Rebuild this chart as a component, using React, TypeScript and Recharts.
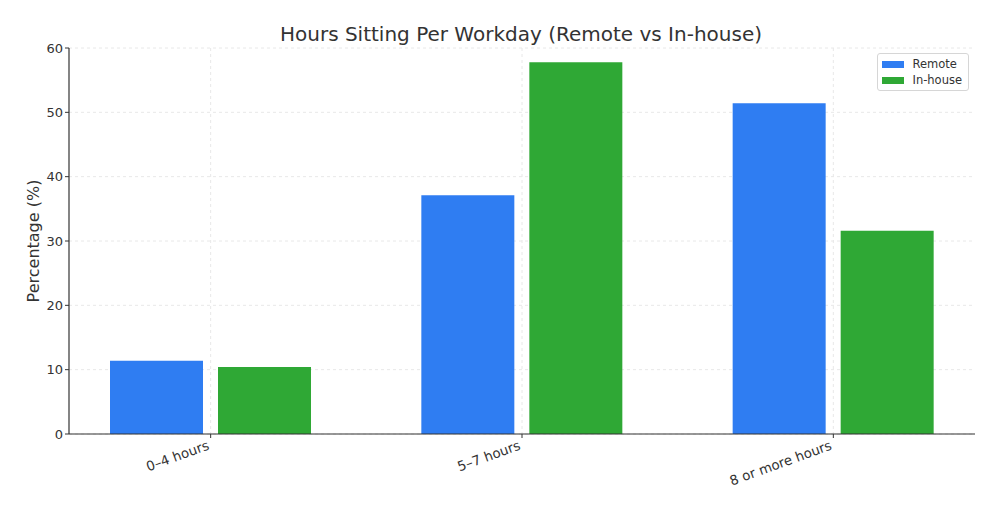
import React from 'react';
import { BarChart, Bar, XAxis, YAxis, CartesianGrid } from 'recharts';

const categories = ['0–4 hours', '5–7 hours', '8 or more hours'];
const remoteValues = [11.4, 37.1, 51.4];
const inHouseValues = [10.4, 57.8, 31.6];
const yTicks = [0, 10, 20, 30, 40, 50, 60];

const REMOTE_COLOR = '#2f7df2';
const INHOUSE_COLOR = '#2fa835';
const FONT = "'DejaVu Sans', sans-serif";

const data = categories.map((name, i) => ({
  name,
  remote: remoteValues[i],
  inHouse: inHouseValues[i],
}));

const legendItems = [
  { label: 'Remote', color: REMOTE_COLOR },
  { label: 'In-house', color: INHOUSE_COLOR },
];

function RotatedTick({ x, y, payload }: any) {
  const tx = x - 4;
  const ty = y;
  return (
    <text
      x={tx}
      y={ty}
      textAnchor='end'
      dominantBaseline='hanging'
      transform={`rotate(-20, ${tx}, ${ty})`}
      fontSize={13.4}
      fill='#333'
      fontFamily={FONT}
    >
      {payload.value}
    </text>
  );
}

function LegendBox() {
  return (
    <div
      style={{
        position: 'absolute',
        top: 53,
        right: 31,
        border: '1px solid #d6d6d6',
        borderRadius: 3,
        background: '#fff',
        padding: '2px 6px 2px 4px',
        fontFamily: FONT,
        fontSize: 11.5,
        color: '#333',
        zIndex: 2,
      }}
    >
      {legendItems.map((it) => (
        <div
          key={it.label}
          style={{ display: 'flex', alignItems: 'center', height: 16 }}
        >
          <span
            style={{
              display: 'inline-block',
              width: 22,
              height: 7,
              background: it.color,
              marginRight: 8,
            }}
          />
          {it.label}
        </div>
      ))}
    </div>
  );
}

export default function App() {
  return (
    <div
      style={{
        position: 'absolute',
        left: 0,
        top: 0,
        width: 1000,
        height: 515,
        background: '#fff',
      }}
    >
      <div
        style={{
          position: 'absolute',
          top: 22,
          left: 0,
          width: 1042,
          textAlign: 'center',
          fontFamily: FONT,
          fontSize: 20,
          color: '#333',
        }}
      >
        Hours Sitting Per Workday (Remote vs In-house)
      </div>
      <LegendBox />
      <BarChart
        width={1000}
        height={515}
        data={data}
        margin={{ top: 48, right: 25, bottom: 51, left: 9 }}
        barSize={93}
        barGap={15}
      >
        <CartesianGrid stroke='#e8e8e8' strokeDasharray='3 3' syncWithTicks />
        <XAxis
          dataKey='name'
          height={30}
          padding={{ left: -14, right: -14 }}
          tick={<RotatedTick />}
          tickSize={4}
          interval={0}
          axisLine={{ stroke: '#333', strokeWidth: 1.2 }}
          tickLine={{ stroke: '#333' }}
        />
        <YAxis
          domain={[0, 60]}
          ticks={yTicks}
          width={60}
          tickSize={4}
          tick={{ fontSize: 13, fill: '#333', fontFamily: FONT }}
          axisLine={{ stroke: '#333', strokeWidth: 1.2 }}
          tickLine={{ stroke: '#333' }}
          label={{
            content: ({ viewBox }: any) => {
              const cx = 33;
              const cy = viewBox.y + viewBox.height / 2;
              return (
                <text
                  x={cx}
                  y={cy}
                  textAnchor='middle'
                  dominantBaseline='central'
                  transform={`rotate(-90, ${cx}, ${cy})`}
                  fontSize={16}
                  fill='#333'
                  fontFamily={FONT}
                >
                  Percentage (%)
                </text>
              );
            },
          }}
        />
        <Bar
          dataKey='remote'
          name='Remote'
          fill={REMOTE_COLOR}
          isAnimationActive={false}
        />
        <Bar
          dataKey='inHouse'
          name='In-house'
          fill={INHOUSE_COLOR}
          isAnimationActive={false}
        />
      </BarChart>
    </div>
  );
}
